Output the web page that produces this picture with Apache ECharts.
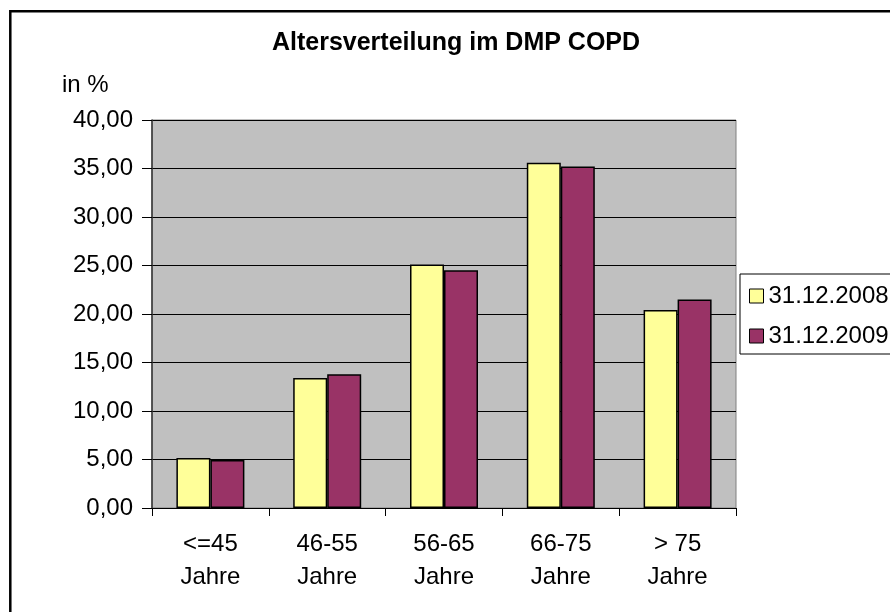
<!DOCTYPE html>
<html>
<head>
<meta charset="utf-8">
<script src="https://cdn.jsdelivr.net/npm/echarts@6/dist/echarts.min.js"></script>
<style>
html,body{margin:0;padding:0;background:#fff;}
#chart{width:890px;height:612px;}
</style>
</head>
<body>
<div id="chart"></div>
<script>
const categories = ['<=45\nJahre', '46-55\nJahre', '56-65\nJahre', '66-75\nJahre', '> 75\nJahre'];
const seriesNames = ['31.12.2008', '31.12.2009'];
const values2008 = [5.15, 13.4, 25.1, 35.6, 20.4];
const values2009 = [4.95, 13.8, 24.5, 35.2, 21.5];
const colors = ['#FFFF99', '#993366'];
const FONT = '"Liberation Sans", Arial, sans-serif';

const chart = echarts.init(document.getElementById('chart'), null, {renderer: 'canvas'});
chart.setOption({
  animation: false,
  backgroundColor: '#ffffff',
  textStyle: {fontFamily: FONT, color: '#000'},
  grid: {
    left: 152, top: 120, width: 584, height: 388,
    show: true, backgroundColor: '#C0C0C0', borderColor: '#808080', borderWidth: 1
  },
  graphic: [
    {type: 'rect', z: 100, shape: {x: 10.3, y: 11.3, width: 1000, height: 1000},
     style: {fill: 'none', stroke: '#000', lineWidth: 2.5}},
    {type: 'text', x: 456, y: 43, style: {text: 'Altersverteilung im DMP COPD', font: 'bold 25px ' + FONT,
      fill: '#000', align: 'center', verticalAlign: 'middle'}},
    {type: 'text', x: 62, y: 85, style: {text: 'in %', font: '24px ' + FONT,
      fill: '#000', align: 'left', verticalAlign: 'middle'}},
    {type: 'text', x: 255, y: -38, style: {text: 'g', font: 'bold 36px ' + FONT,
      fill: '#000', align: 'center', verticalAlign: 'top'}}
  ],
  legend: {
    orient: 'vertical', left: 740, top: 274,
    data: seriesNames,
    borderColor: '#000', borderWidth: 1,
    padding: [10, 80, 6, 9],
    itemGap: 16, itemWidth: 14, itemHeight: 14, icon: 'rect',
    itemStyle: {borderColor: '#000', borderWidth: 1},
    textStyle: {fontSize: 24, color: '#000', fontFamily: FONT}
  },
  xAxis: {
    type: 'category', data: categories,
    axisLine: {show: true, lineStyle: {color: '#000', width: 1}},
    axisTick: {show: true, length: 8, alignWithLabel: false, lineStyle: {color: '#000'}},
    axisLabel: {fontSize: 24, lineHeight: 33, color: '#000', margin: 20, interval: 0, fontFamily: FONT},
    splitLine: {show: false}
  },
  yAxis: {
    type: 'value', min: 0, max: 40, interval: 5,
    axisLine: {show: true, lineStyle: {color: '#333', width: 1.5}},
    axisTick: {show: true, length: 10, inside: false, lineStyle: {color: '#000'}},
    axisLabel: {fontSize: 24, color: '#000', margin: 19, fontFamily: FONT,
      formatter: v => v.toFixed(2).replace('.', ',')},
    splitLine: {show: true, lineStyle: {color: '#000', width: 1}}
  },
  series: [
    {name: seriesNames[0], type: 'bar', data: values2008, barWidth: 34, barGap: '0%',
     itemStyle: {color: colors[0], borderColor: '#000', borderWidth: 1.5}},
    {name: seriesNames[1], type: 'bar', data: values2009, barWidth: 34, barGap: '0%',
     itemStyle: {color: colors[1], borderColor: '#000', borderWidth: 1.5}}
  ]
});
</script>
</body>
</html>
